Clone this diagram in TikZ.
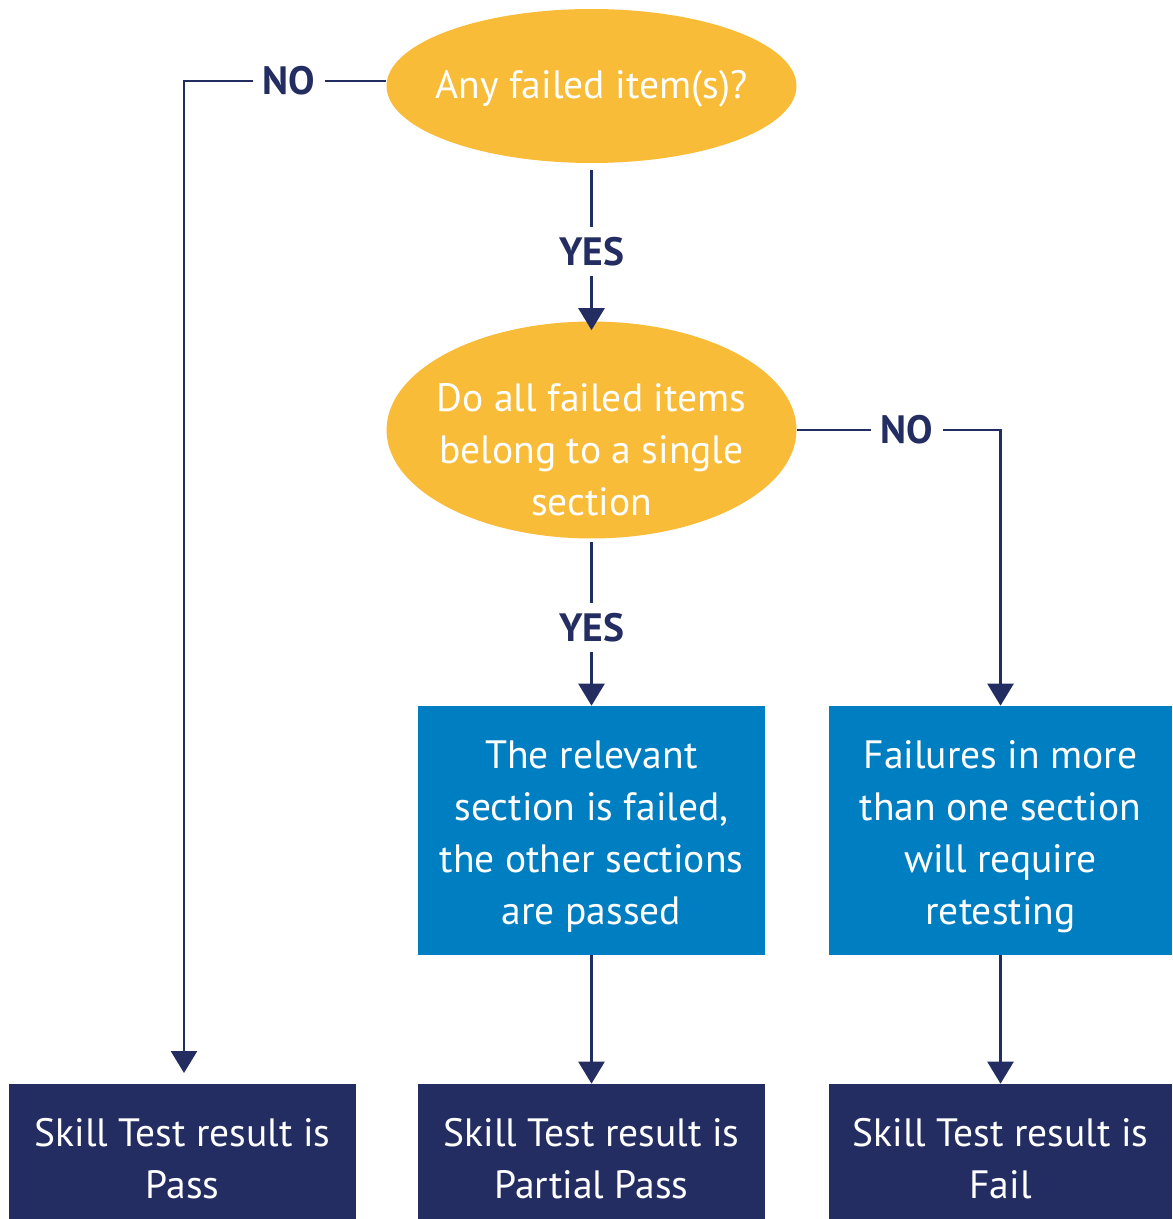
\documentclass[tikz,border=0pt]{standalone}
\usepackage{fontspec}
\setmainfont{PT Sans}
\usetikzlibrary{shapes.geometric,arrows.meta}
\definecolor{qyellow}{HTML}{F9BC39}
\definecolor{qblue}{HTML}{007EC2}
\definecolor{qnavy}{HTML}{232D62}
\begin{document}
\begin{tikzpicture}[
x=0.02cm, y=-0.02cm,
boxtext/.style={text=white, align=center, inner sep=0pt, font=\fontsize{22.5}{29.5}\selectfont},
question/.style={ellipse, fill=qyellow, minimum width=8.2cm, inner sep=0pt},
outcome/.style={rectangle, fill=qblue, minimum width=6.94cm, minimum height=4.98cm, inner sep=0pt},
result/.style={rectangle, fill=qnavy, minimum width=6.94cm, minimum height=2.7cm, inner sep=0pt},
flow/.style={draw=qnavy, line width=1.5pt, -{Triangle[width=0.52cm, length=0.44cm]}},
answer/.style={fill=white, text=qnavy, inner sep=0.2cm, font=\fontsize{22.5}{29.5}\selectfont\bfseries},
]
\useasboundingbox (0,0) rectangle (1172,1219);
\node[question, minimum height=3.08cm, label={[boxtext, yshift=-0.06cm]center:Any failed item(s)?}] (anyfailed) at (591.5,86) {};
\node[question, minimum height=4.34cm, label={[boxtext, yshift=-0.4cm]center:Do all failed items\\belong to a single\\section}] (single) at (591.5,430) {};
\node[outcome, label={[boxtext, yshift=-0.12cm]center:The relevant\\section is failed,\\the other sections\\are passed}] (relevant) at (591.5,830.5) {};
\node[outcome, minimum width=6.86cm, label={[boxtext, yshift=-0.12cm]center:Failures in more\\than one section\\will require\\retesting}] (failures) at (1000.5,830.5) {};
\node[result, label={[boxtext, yshift=-0.14cm]center:Skill Test result is\\Pass}] (pass) at (182.5,1151.5) {};
\node[result, label={[boxtext, yshift=-0.14cm]center:Skill Test result is\\Partial Pass}] (partial) at (591.5,1151.5) {};
\node[result, minimum width=6.86cm, label={[boxtext, yshift=-0.14cm]center:Skill Test result is\\Fail}] (fail) at (1000.5,1151.5) {};
\coordinate (passtop) at (184,1073);
% answers
\draw[flow] ([yshift=0.1cm]anyfailed.west) -| node[answer, pos=0.24] {NO} (passtop);
\draw[flow, shorten <=0.14cm, shorten >=-0.18cm] (anyfailed.south) -- node[answer, pos=0.56] {YES} (single.north);
\draw[flow] (single.east) -| node[answer, pos=0.27] {NO} (failures.north);
\draw[flow, shorten <=0.06cm] (single.south) -- node[answer, pos=0.53] {YES} (relevant.north);
% results
\draw[flow] (relevant.south) -- (partial.north);
\draw[flow] (failures.south) -- (fail.north);
\end{tikzpicture}
\end{document}
